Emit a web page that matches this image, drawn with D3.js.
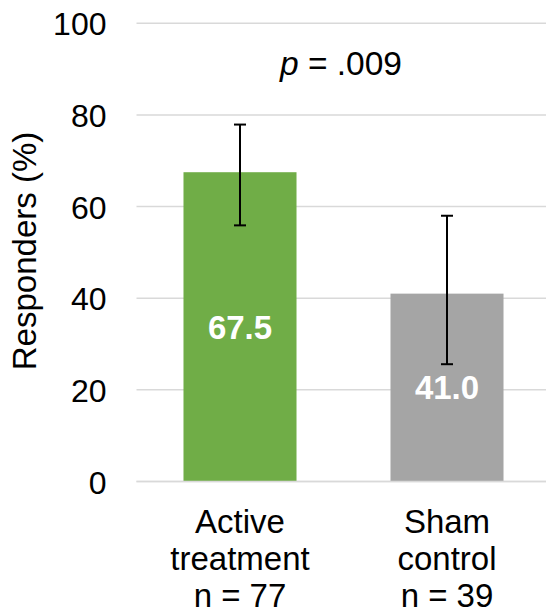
<!DOCTYPE html>
<html>
<head>
<meta charset="utf-8">
<script src="https://cdn.jsdelivr.net/npm/d3@7"></script>
<style>
  body { margin: 0; background: #fff; }
  svg { display: block; font-family: 'Liberation Sans', Arial, sans-serif; }
</style>
</head>
<body>
<div id="chart"></div>
<script>
const width = 546;
const height = 615;

// Chart data
const categories = ['Active treatment', 'Sham control'];
const categoryLines = [['Active', 'treatment', 'n = 77'], ['Sham', 'control', 'n = 39']];
const values = [67.5, 41.0];
const errLow = [55.9, 25.6];
const errHigh = [77.9, 58.0];
const colors = ['#70AD47', '#A5A5A5'];
const yTicks = [0, 20, 40, 60, 80, 100];
const pLabel = '.009';

const margin = { top: 23.3, right: 0, bottom: 133.5, left: 136.5 };

const svg = d3.select('#chart')
  .append('svg')
  .attr('width', width)
  .attr('height', height);

const x = d3.scaleBand()
  .domain(categories)
  .range([margin.left, margin.left + 414])
  .paddingInner(0.454)
  .paddingOuter(0.227);

const y = d3.scaleLinear()
  .domain([0, 100])
  .range([height - margin.bottom, margin.top]);

// Gridlines
svg.append('g')
  .selectAll('line')
  .data(yTicks)
  .enter()
  .append('line')
  .attr('x1', margin.left)
  .attr('x2', width)
  .attr('y1', (d) => y(d))
  .attr('y2', (d) => y(d))
  .attr('stroke', '#D9D9D9')
  .attr('stroke-width', 1.5);

// Y axis tick labels
const yAxis = svg.append('g')
  .attr('transform', `translate(${margin.left - 30},0)`)
  .call(d3.axisLeft(y).tickValues(yTicks).tickSize(0).tickPadding(0));
yAxis.select('.domain').remove();
yAxis.selectAll('text')
  .attr('dy', '0.36em')
  .style('font-size', '32px')
  .style('font-family', "'Liberation Sans', Arial, sans-serif")
  .attr('fill', '#000');

// Bars
svg.append('g')
  .selectAll('rect')
  .data(categories)
  .enter()
  .append('rect')
  .attr('x', (d) => x(d))
  .attr('width', x.bandwidth())
  .attr('y', (d, i) => y(values[i]))
  .attr('height', (d, i) => y(0) - y(values[i]))
  .attr('fill', (d, i) => colors[i]);

// Redraw zero line on top of bars
svg.append('line')
  .attr('x1', margin.left)
  .attr('x2', width)
  .attr('y1', y(0))
  .attr('y2', y(0))
  .attr('stroke', '#D9D9D9')
  .attr('stroke-width', 1.5);

// Error bars
const err = svg.append('g')
  .selectAll('g')
  .data(categories)
  .enter()
  .append('g')
  .attr('stroke', '#000')
  .attr('stroke-width', 2);
err.append('line')
  .attr('x1', (d) => x(d) + x.bandwidth() / 2)
  .attr('x2', (d) => x(d) + x.bandwidth() / 2)
  .attr('y1', (d, i) => y(errLow[i]))
  .attr('y2', (d, i) => y(errHigh[i]));
[errLow, errHigh].forEach((arr) => {
  err.append('line')
    .attr('x1', (d) => x(d) + x.bandwidth() / 2 - 6)
    .attr('x2', (d) => x(d) + x.bandwidth() / 2 + 6)
    .attr('y1', (d, i) => y(arr[i]))
    .attr('y2', (d, i) => y(arr[i]));
});

// Value labels in bars
svg.append('g')
  .selectAll('text')
  .data(categories)
  .enter()
  .append('text')
  .attr('x', (d) => x(d) + x.bandwidth() / 2)
  .attr('y', (d, i) => (y(values[i]) + y(0)) / 2)
  .attr('dy', '0.36em')
  .attr('text-anchor', 'middle')
  .attr('fill', '#fff')
  .style('font-size', '33px')
  .style('font-weight', 'bold')
  .text((d, i) => values[i].toFixed(1));

// Category labels
const cat = svg.append('g')
  .selectAll('text')
  .data(categories)
  .enter()
  .append('text')
  .attr('text-anchor', 'middle')
  .style('font-size', '33px')
  .attr('fill', '#000');
cat.selectAll('tspan')
  .data((d, i) => categoryLines[i].map((t) => ({ t, c: d })))
  .enter()
  .append('tspan')
  .attr('x', (d) => x(d.c) + x.bandwidth() / 2)
  .attr('y', (d, j) => 533 + j * 37)
  .text((d) => d.t);

// p value annotation
const p = svg.append('text')
  .attr('x', 341)
  .attr('y', 75)
  .attr('text-anchor', 'middle')
  .style('font-size', '33.5px')
  .attr('fill', '#000');
p.append('tspan').style('font-style', 'italic').text('p');
p.append('tspan').text(' = ' + pLabel);

// Y axis title
svg.append('text')
  .attr('transform', 'translate(36,251) rotate(-90)')
  .attr('text-anchor', 'middle')
  .style('font-size', '33px')
  .attr('fill', '#000')
  .text('Responders (%)');
</script>
</body>
</html>
